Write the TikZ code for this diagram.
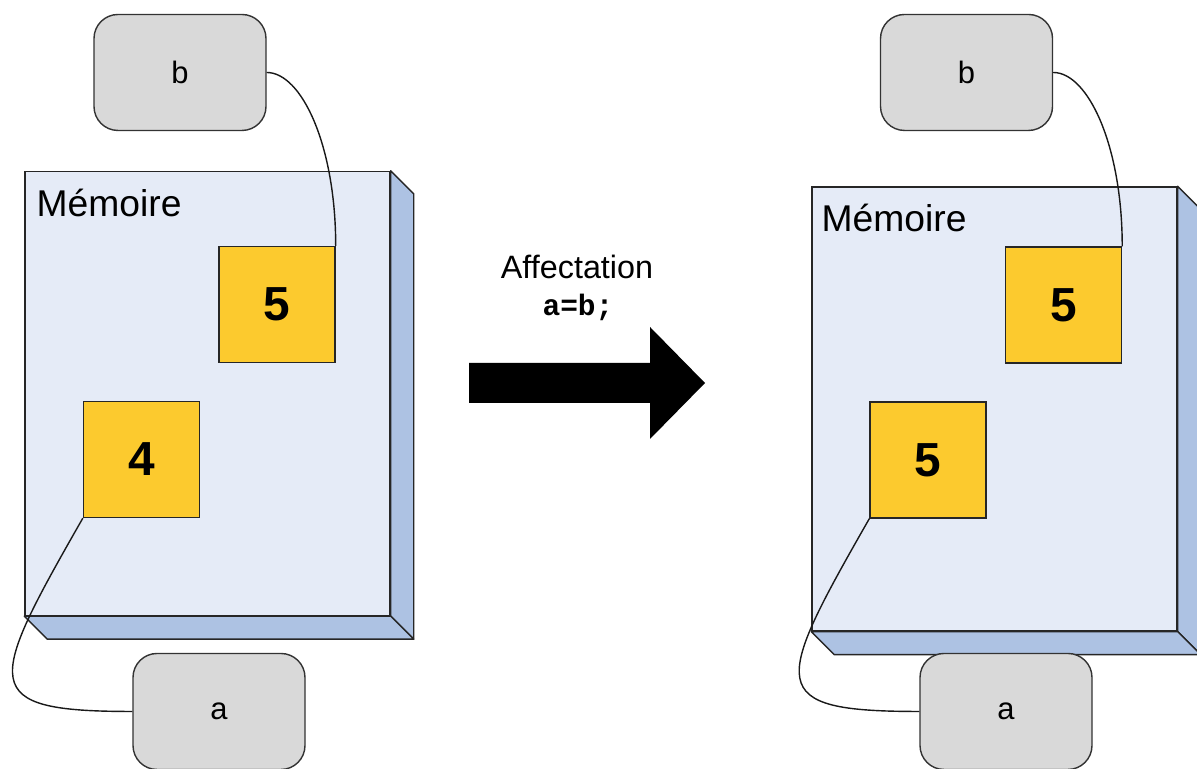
\documentclass[tikz,border=0pt]{standalone}
\usepackage{fontspec}
\setmainfont{Liberation Sans}
\setmonofont{Liberation Mono}
\definecolor{varfill}{RGB}{217,217,217}
\definecolor{cellfill}{RGB}{252,202,46}
\definecolor{memface}{RGB}{229,235,247}
\definecolor{memedge}{RGB}{173,194,227}
\tikzset{
  varbox/.style={draw=black!80, fill=varfill, line width=1pt, rounded corners=0.6cm, minimum width=4.3cm, minimum height=2.9cm, font=\fontsize{22}{26}\selectfont},
  cell/.style={draw=black!85, fill=cellfill, line width=1pt, minimum size=2.9cm, font=\fontsize{34}{40}\selectfont\bfseries},
  memfront/.style={draw=black!85, fill=memface, line width=1pt, minimum width=9.125cm, minimum height=11.1cm},
  memside/.style={draw=black!85, fill=memedge, line width=1pt, line join=round},
  memlabel/.style={inner sep=0pt, anchor=base west, font=\fontsize{26.5}{30}\selectfont},
  link/.style={line width=1pt, draw=black!90},
}

\begin{document}
\begin{tikzpicture}
\useasboundingbox (0,0) rectangle (29.925,19.225);
\node[memfront] (memL) at (5.188,9.388) {};
\draw[memside] (memL.north east) -- ++(0.575,-0.575) -- ([shift={(0.575,-0.575)}]memL.south east) -- (memL.south east) -- cycle;
\draw[memside] (memL.south west) -- ++(0.575,-0.575) -- ([shift={(0.575,-0.575)}]memL.south east) -- (memL.south east) -- cycle;
\node[memlabel] (labL) at ([xshift=0.3cm,yshift=-1.15cm]memL.north west) {Mémoire};
\node[cell] (c5L) at (6.925,11.613) {5};
\node[cell] (c4L) at (3.538,7.738) {4};
\node[varbox] (bL) at (4.500,17.413) {b};
\node[varbox] (aL) at (5.475,1.438) {a};
\draw[link] (bL.east) .. controls +(0.875,0) and +(0,2.5) .. (c5L.north east);
\draw[link] (c4L.south west) .. controls +(-2.4,-4.2) and +(-3.9,0) .. (aL.west);
\node[font=\fontsize{23}{27}\selectfont] (title) at (14.425,12.550) {Affectation};
\node[font=\fontsize{21}{25}\selectfont\ttfamily\bfseries] (code) at (14.450,11.550) {a=b;};
\fill[black] (11.725,10.150) -- (16.250,10.150) -- (16.250,11.050) -- (17.625,9.650) -- (16.250,8.250) -- (16.250,9.150) -- (11.725,9.150) -- cycle;
\node[memfront] (memR) at (24.863,9.000) {};
\draw[memside] (memR.north east) -- ++(0.575,-0.575) -- ([shift={(0.575,-0.575)}]memR.south east) -- (memR.south east) -- cycle;
\draw[memside] (memR.south west) -- ++(0.575,-0.575) -- ([shift={(0.575,-0.575)}]memR.south east) -- (memR.south east) -- cycle;
\node[memlabel] (labR) at ([xshift=0.25cm,yshift=-1.125cm]memR.north west) {Mémoire};
\node[cell] (c5R) at (26.588,11.600) {5};
\node[cell] (c4R) at (23.200,7.725) {5};
\node[varbox] (bR) at (24.163,17.413) {b};
\node[varbox] (aR) at (25.150,1.438) {a};
\draw[link] (bR.east) .. controls +(0.875,0) and +(0,2.5) .. (c5R.north east);
\draw[link] (c4R.south west) .. controls +(-2.4,-4.2) and +(-3.9,0) .. (aR.west);
\end{tikzpicture}
\end{document}
